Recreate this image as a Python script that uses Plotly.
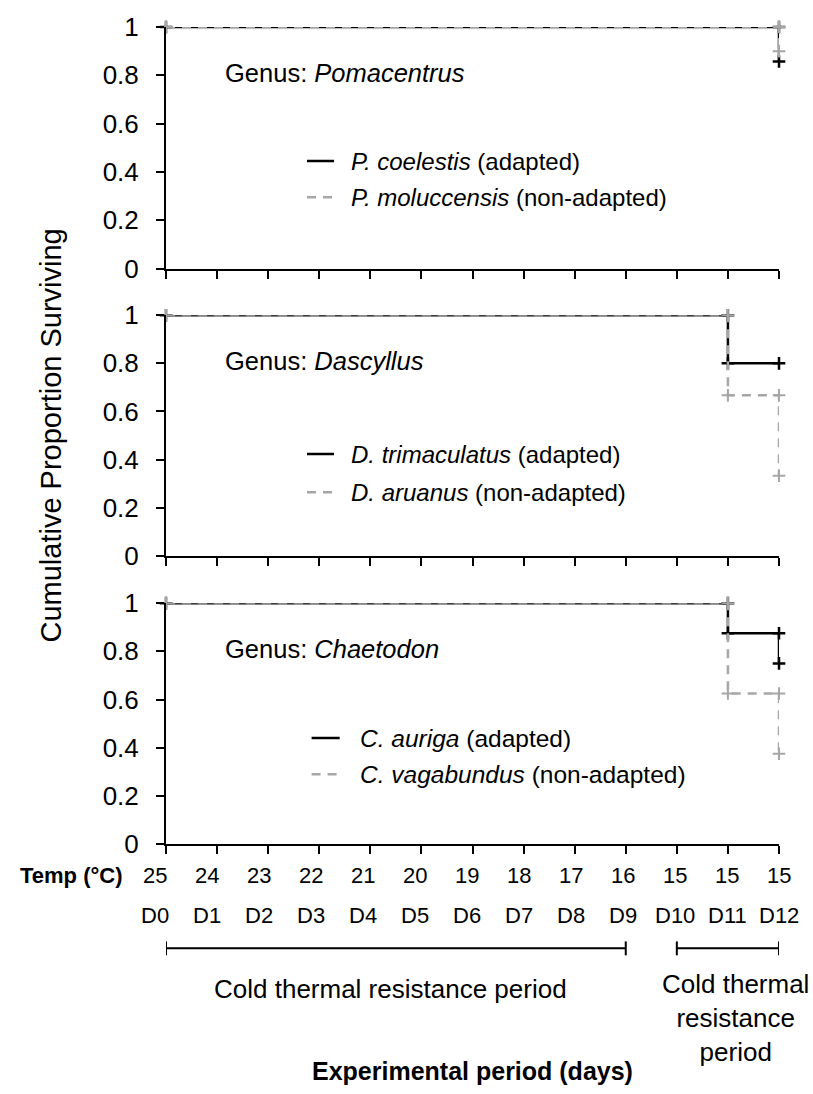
import plotly.graph_objects as go

# ---------------- data ----------------
days = list(range(13))
day_labels = [f"D{d}" for d in days]
temps = [25, 24, 23, 22, 21, 20, 19, 18, 17, 16, 15, 15, 15]
y_tickvals = [0, 0.2, 0.4, 0.6, 0.8, 1]
y_ticktext = ["0", "0.2", "0.4", "0.6", "0.8", "1"]

genera = ["Pomacentrus", "Dascyllus", "Chaetodon"]
adapted_names = ["P. coelestis", "D. trimaculatus", "C. auriga"]
nonadapted_names = ["P. moluccensis", "D. aruanus", "C. vagabundus"]

# Kaplan-Meier step vertices (day, cumulative proportion surviving)
p_coelestis_day = [0, 12, 12]
p_coelestis_surv = [1, 1, 0.857]
p_moluccensis_day = [0, 12, 12]
p_moluccensis_surv = [1, 1, 0.9]

d_trimaculatus_day = [0, 11, 11, 12]
d_trimaculatus_surv = [1, 1, 0.8, 0.8]
d_aruanus_day = [0, 11, 11, 12, 12]
d_aruanus_surv = [1, 1, 0.667, 0.667, 0.333]

c_auriga_day = [0, 11, 11, 12, 12]
c_auriga_surv = [1, 1, 0.875, 0.875, 0.75]
c_vagabundus_day = [0, 11, 11, 12, 12]
c_vagabundus_surv = [1, 1, 0.625, 0.625, 0.375]

adapted = [(p_coelestis_day, p_coelestis_surv),
           (d_trimaculatus_day, d_trimaculatus_surv),
           (c_auriga_day, c_auriga_surv)]
nonadapted = [(p_moluccensis_day, p_moluccensis_surv),
              (d_aruanus_day, d_aruanus_surv),
              (c_vagabundus_day, c_vagabundus_surv)]

periods = [("Cold thermal resistance period", 0, 9),
           ("Cold thermal<br>resistance<br>period", 10, 12)]

# ---------------- styling ----------------
FONT = "Liberation Sans, Arial, sans-serif"
BLACK = "#000000"
GREY = "#a6a6a6"

W, H = 813, 1094
L, R, T, B = 166, 34, 22, 250
plot_h = H - T - B
plot_w = W - L - R
X_MAX = days[-1]

def py(pix):
    """pixel row -> paper y"""
    return (H - B - pix) / plot_h

def px(pix):
    return (pix - L) / plot_w

panel_pix = [(22, 265), (312, 554), (601.7, 844)]
domains = [[py(b), py(t)] for t, b in panel_pix]

fig = go.Figure()

for i in range(3):
    xa = "x" if i == 0 else f"x{i+1}"
    ya = "y" if i == 0 else f"y{i+1}"
    ad, na = adapted[i], nonadapted[i]
    fig.add_trace(go.Scatter(
        x=ad[0], y=ad[1], mode="lines+markers", name=adapted_names[i],
        line=dict(color=BLACK, width=2.5),
        marker=dict(symbol="cross-thin", size=9, line=dict(color=BLACK, width=2.5)),
        xaxis=xa, yaxis=ya, showlegend=False, cliponaxis=False))
    fig.add_trace(go.Scatter(
        x=na[0], y=na[1], mode="lines+markers", name=nonadapted_names[i],
        line=dict(color=GREY, width=2.5, dash="9px,7px"),
        marker=dict(symbol="cross-thin", size=9, line=dict(color=GREY, width=2)),
        xaxis=xa, yaxis=ya, showlegend=False, cliponaxis=False))

axis_common = dict(showgrid=False, zeroline=False, showline=True, linecolor=BLACK,
                   linewidth=2, ticks="outside", tickcolor=BLACK, tickwidth=2, ticklen=8)

layout = dict(width=W, height=H, margin=dict(l=L, r=R, t=T, b=B),
              paper_bgcolor="white", plot_bgcolor="white",
              font=dict(family=FONT, color=BLACK), showlegend=False)

for i in range(3):
    xk = "xaxis" if i == 0 else f"xaxis{i+1}"
    yk = "yaxis" if i == 0 else f"yaxis{i+1}"
    ya = "y" if i == 0 else f"y{i+1}"
    xa = "x" if i == 0 else f"x{i+1}"
    layout[xk] = dict(axis_common, range=[0, X_MAX], tickvals=days, showticklabels=False,
                      anchor=ya, domain=[0, 1])
    layout[yk] = dict(axis_common, range=[0, 1], tickvals=y_tickvals, ticktext=y_ticktext,
                      tickfont=dict(size=26, family=FONT, color=BLACK),
                      ticklabelstandoff=12, anchor=xa, domain=domains[i])
fig.update_layout(**layout)

ann = []
shapes = []
# genus labels and per-panel legends
genus_y = [0.81, 0.81, 0.81]
leg_rows = [(0.445, 0.295), (0.423, 0.264), (0.44, 0.29)]
leg_x = [(2.76, 3.29, 3.58), (2.76, 3.29, 3.58), (2.85, 3.40, 3.75)]
leg_size = [24, 24, 24.5]
for i in range(3):
    xa = "x" if i == 0 else f"x{i+1}"
    ya = "y" if i == 0 else f"y{i+1}"
    ann.append(dict(x=1.12, y=genus_y[i], xref=xa, yref=ya, xanchor="left", yanchor="middle",
                    text=f"Genus: <i>{genera[i]}</i>", showarrow=False,
                    font=dict(size=25.5, family=FONT, color=BLACK)))
    r1, r2 = leg_rows[i]
    lx0, lx1, tx = leg_x[i]
    ann.append(dict(x=tx, y=r1, xref=xa, yref=ya, xanchor="left", yanchor="middle",
                    text=f"<i>{adapted_names[i]}</i> (adapted)", showarrow=False,
                    font=dict(size=leg_size[i], family=FONT, color=BLACK)))
    ann.append(dict(x=tx, y=r2, xref=xa, yref=ya, xanchor="left", yanchor="middle",
                    text=f"<i>{nonadapted_names[i]}</i> (non-adapted)", showarrow=False,
                    font=dict(size=leg_size[i], family=FONT, color=BLACK)))
    shapes.append(dict(type="line", xref=xa, yref=ya, x0=lx0, x1=lx1, y0=r1, y1=r1,
                       line=dict(color=BLACK, width=2.5)))
    shapes.append(dict(type="line", xref=xa, yref=ya, x0=lx0, x1=lx1, y0=r2, y1=r2,
                       line=dict(color=GREY, width=2.5, dash="9px,7px")))

# temperature and day rows under the bottom panel
temp_y = py(876)
day_y = py(916)
for d, t, lab in zip(days, temps, day_labels):
    xpos = (d - 0.215 * (X_MAX - d) / X_MAX) / X_MAX
    ann.append(dict(x=xpos, y=temp_y, xref="paper", yref="paper", text=str(t), showarrow=False,
                    xanchor="center", yanchor="middle", font=dict(size=22, family=FONT, color=BLACK)))
    ann.append(dict(x=xpos, y=day_y, xref="paper", yref="paper", text=lab, showarrow=False,
                    xanchor="center", yanchor="middle", font=dict(size=22, family=FONT, color=BLACK)))
ann.append(dict(x=px(18), y=temp_y, xref="paper", yref="paper", text="<b>Temp (°C)</b>",
                showarrow=False, xanchor="left", yanchor="middle",
                font=dict(size=22, family=FONT, color=BLACK)))

# period brackets
br_y = py(949)
cap = 7 / plot_h
text_centres = [(4.4, py(990)), (11.15, py(1019))]
for (label, d0, d1), (tx, ty) in zip(periods, text_centres):
    shapes.append(dict(type="line", xref="x3", yref="paper", x0=d0, x1=d1, y0=br_y, y1=br_y,
                       line=dict(color=BLACK, width=2)))
    for d in (d0, d1):
        shapes.append(dict(type="line", xref="x3", yref="paper", x0=d, x1=d,
                           y0=br_y - cap, y1=br_y + cap, line=dict(color=BLACK, width=2)))
    ann.append(dict(x=tx, y=ty, xref="x3", yref="paper", text=label, showarrow=False,
                    xanchor="center", yanchor="middle", align="center",
                    font=dict(size=26, family=FONT, color=BLACK)))

ann.append(dict(x=0.5, y=py(1072), xref="paper", yref="paper",
                text="<b>Experimental period (days)</b>", showarrow=False,
                xanchor="center", yanchor="middle", font=dict(size=25, family=FONT, color=BLACK)))
ann.append(dict(x=px(50), y=py(433), xref="paper", yref="paper",
                text="Cumulative Proportion Surviving", showarrow=False, textangle=-90,
                xanchor="center", yanchor="middle", font=dict(size=29, family=FONT, color=BLACK)))

fig.update_layout(annotations=ann, shapes=shapes)
fig.write_html("out.html")
